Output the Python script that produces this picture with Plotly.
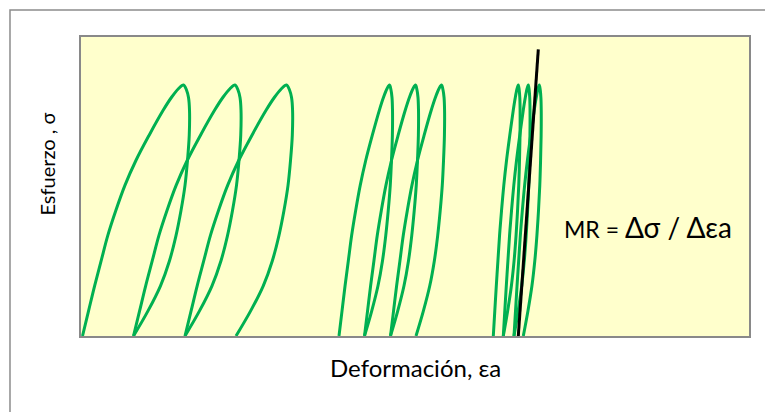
import plotly.graph_objects as go

# Normalised loop template
# loading branch: fraction of peak stress (t) vs fraction of the loading width
load_t = [0.0, 0.10, 0.20, 0.30, 0.40, 0.50, 0.60, 0.70, 0.80, 0.90, 0.95, 0.985, 1.0]
load_frac = [0.0, 0.06, 0.12, 0.185, 0.25, 0.33, 0.42, 0.53, 0.66, 0.80, 0.88, 0.95, 1.0]
# unloading branch: fraction of peak stress vs offset from the peak (in units of the drop)
unload_t = [1.0, 0.98, 0.95, 0.90, 0.80, 0.70, 0.60, 0.50, 0.40, 0.30, 0.20, 0.10, 0.0]
unload_frac = [0.0, 0.06, 0.10, 0.12, 0.115, 0.08, 0.03, -0.05, -0.15, -0.28, -0.46, -0.71, -1.0]

peak_stress = 100.0

# Loop groups (strain values): start of loading, peak, end of unloading
g1_start = [1.5, 52.5, 104.0]
g1_peak = [102.5, 154.0, 205.5]
g1_end = [52.5, 104.0, 155.0]

g2_start = [258.0, 283.5, 309.5]
g2_peak = [308.5, 334.5, 360.5]
g2_end = [283.5, 309.5, 335.0]

g3_start = [412.3, 422.3, 433.0]
g3_peak = [437.3, 447.3, 458.3]
g3_end = [422.3, 433.0, 442.3]

# Resilient modulus secant line
mr_x = [437.3, 457.3]
mr_y = [0.0, 114.2]

x_range = [0, 668]
y_range = [0, 119.1]


def loop_path(s, p, e):
    xs = [s + (p - s) * f for f in load_frac]
    ys = [peak_stress * t for t in load_t]
    xs += [p + (p - e) * f for f in unload_frac[1:]]
    ys += [peak_stress * t for t in unload_t[1:]]
    return xs, ys


fig = go.Figure()
for starts, peaks, ends in [(g1_start, g1_peak, g1_end),
                            (g2_start, g2_peak, g2_end),
                            (g3_start, g3_peak, g3_end)]:
    for s, p, e in zip(starts, peaks, ends):
        xs, ys = loop_path(s, p, e)
        fig.add_trace(go.Scatter(x=xs, y=ys, mode="lines",
                                 line=dict(color="#00B050", width=3, shape="spline", smoothing=1.0),
                                 hoverinfo="skip", showlegend=False))

fig.add_trace(go.Scatter(x=mr_x, y=mr_y, mode="lines",
                         line=dict(color="#000000", width=3),
                         hoverinfo="skip", showlegend=False))

font_family = "Lato, 'Open Sans', sans-serif"

fig.add_annotation(x=566.5, y=43.5, xref="x", yref="y", xanchor="center", yanchor="middle",
                   text="MR = <span style='font-size:28px'>Δσ / Δεa</span>",
                   showarrow=False, font=dict(family=font_family, size=23, color="#000000"))
fig.add_annotation(x=0.5, y=-0.104, xref="paper", yref="paper", xanchor="center", yanchor="middle",
                   text="Deformación, εa", showarrow=False,
                   font=dict(family=font_family, size=24, color="#000000"))
fig.add_annotation(x=-0.0502, y=0.575, xref="paper", yref="paper", xanchor="center", yanchor="middle",
                   text="Esfuerzo , σ", textangle=-90, showarrow=False,
                   font=dict(family=font_family, size=20, color="#000000"))

# outer chart frame
fig.add_shape(type="rect", xref="paper", yref="paper",
              x0=-0.1063, y0=-0.6, x1=1.3, y1=1.0903,
              line=dict(color="#8C8C8C", width=1.5), layer="below")

fig.update_xaxes(range=x_range, showgrid=False, zeroline=False, showticklabels=False,
                 ticks="", showline=True, mirror=True, linecolor="#898989", linewidth=2)
fig.update_yaxes(range=y_range, showgrid=False, zeroline=False, showticklabels=False,
                 ticks="", showline=True, mirror=True, linecolor="#898989", linewidth=2)

fig.update_layout(width=765, height=412,
                  margin=dict(l=81, r=16, t=37, b=76),
                  plot_bgcolor="#FFFFCC", paper_bgcolor="#FFFFFF",
                  font=dict(family=font_family))

fig.write_html("out.html")
